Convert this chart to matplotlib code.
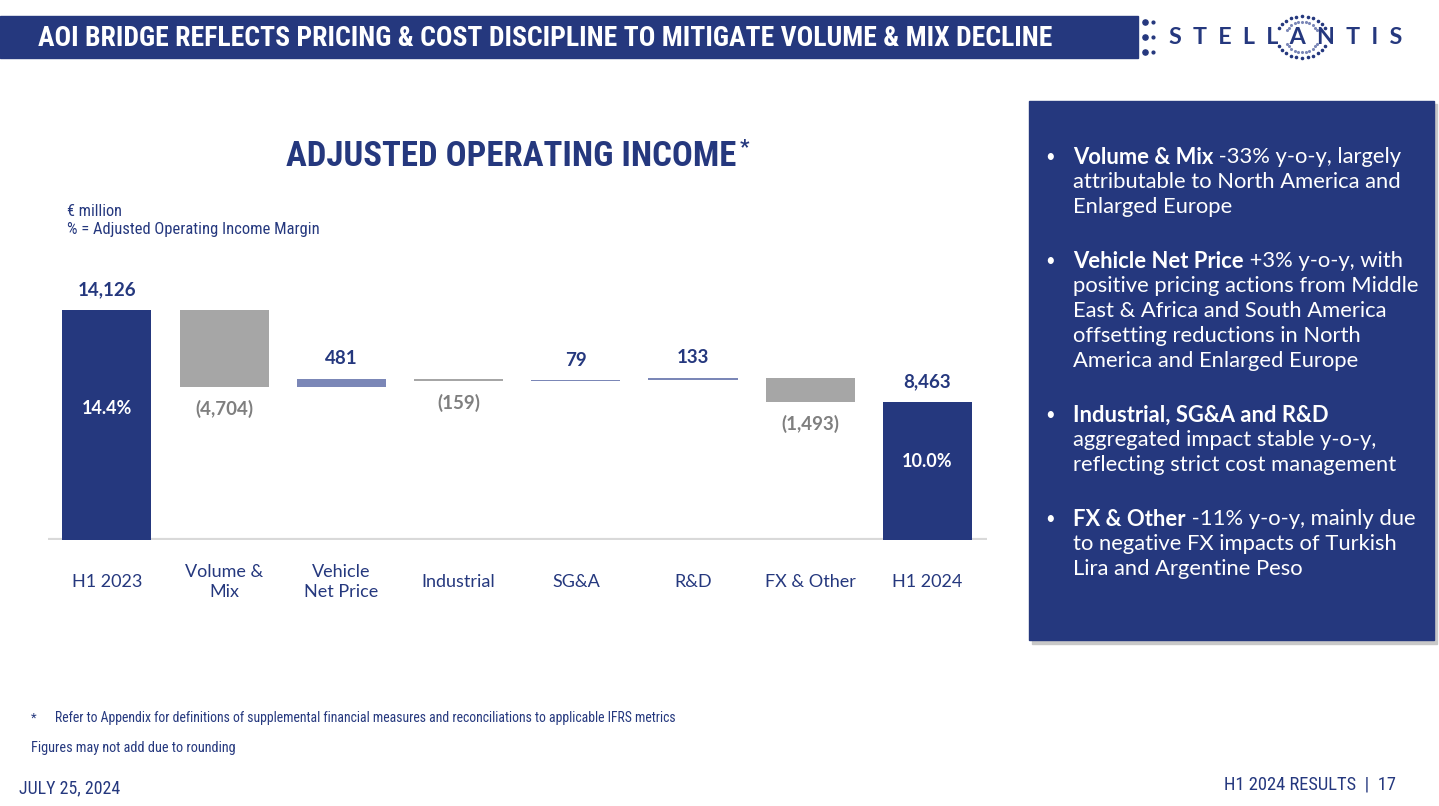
import numpy as np
import matplotlib
matplotlib.use("Agg")
import matplotlib.pyplot as plt
from matplotlib.patches import Rectangle

# ----------------
# Chart data
# ----------------

categories = ["H1 2023", "Volume &\nMix", "Vehicle\nNet Price", "Industrial",
              "SG&A", "R&D", "FX & Other", "H1 2024"]
values = [14126, -4704, 481, -159, 79, 133, -1493, 8463]
is_total = [True, False, False, False, False, False, False, True]
value_labels = ["14,126", "(4,704)", "481", "(159)", "79", "133", "(1,493)", "8,463"]
margin_labels = ["14.4%", None, None, None, None, None, None, "10.0%"]

bullets = [
    ("Volume & Mix", " -33% y-o-y, largely",
     ["attributable to North America and", "Enlarged Europe"]),
    ("Vehicle Net Price", " +3% y-o-y, with",
     ["positive pricing actions from Middle", "East & Africa and South America",
      "offsetting reductions in North", "America and Enlarged Europe"]),
    ("Industrial, SG&A and R&D", "",
     ["aggregated impact stable y-o-y,", "reflecting strict cost management"]),
    ("FX & Other", " -11% y-o-y, mainly due",
     ["to negative FX impacts of Turkish", "Lira and Argentine Peso"]),
]

# ----------------
# Styles
# ----------------

NAVY = "#25387e"
LIGHT_BLUE = "#7b87b7"
GREY_BAR = "#a6a6a6"
GREY_TXT = "#7f7f7f"
BASE = "#d9d9d9"

NARROW = ["Roboto Condensed", "Open Sans Condensed", "Roboto", "DejaVu Sans"]
BODY = ["Lato", "DejaVu Sans"]

W, H = 1439, 806
fig = plt.figure(figsize=(W / 100, H / 100), dpi=100)
fig.patch.set_facecolor("white")
renderer = fig.canvas.get_renderer()


def fx(x):
    return x / W


def fy(y):
    return 1 - y / H


def fit(t, width):
    # scale the font so the text spans the width seen on the slide
    w = t.get_window_extent(renderer).width
    t.set_fontsize(t.get_fontsize() * width / w)
    return t


# header bar
fig.patches.append(Rectangle((0, fy(58)), fx(1138), (58 - 16) / H,
                             transform=fig.transFigure, color=NAVY, zorder=0))
fit(fig.text(fx(38), fy(38), "AOI BRIDGE REFLECTS PRICING & COST DISCIPLINE TO MITIGATE VOLUME & MIX DECLINE",
             color="white", fontsize=18, fontweight="bold", family=NARROW, va="center"), 1014)

# logo
fit(fig.text(fx(1169), fy(37), "S  T  E  L  L  A  N  T  I  S", color=NAVY,
             fontsize=13, fontweight="bold", family=BODY, ha="left", va="center"), 234)
deco = fig.add_axes([0, 0, 1, 1], zorder=-1)
deco.set_xlim(0, W)
deco.set_ylim(H, 0)
deco.axis("off")
ang = np.linspace(0, 2 * np.pi, 28, endpoint=False)
ring = (np.sin(ang) < -0.35) | (np.sin(ang) > 0.35)
deco.scatter(1302 + 26 * np.cos(ang[ring]), 37 + 21 * np.sin(ang[ring]), s=2.5, color=NAVY)
deco.scatter(1302 + 17 * np.cos(ang[ring]), 37 + 15 * np.sin(ang[ring]), s=1.5, color=LIGHT_BLUE)
deco.scatter([1145] * 3, [22, 37, 52], s=14, color=NAVY)
deco.scatter([1153] * 3, [22, 37, 52], s=4, color=NAVY)

# chart title
fit(fig.text(fx(286), fy(156), "ADJUSTED OPERATING INCOME", color=NAVY, fontsize=23,
             fontweight="bold", family=NARROW, ha="left", va="center"), 452)
fig.text(fx(740), fy(148), "*", color=NAVY, fontsize=15, fontweight="bold",
         family=NARROW, ha="left", va="center")
fit(fig.text(fx(67), fy(212), "€ million", color=NAVY, fontsize=10.5, family=NARROW,
             va="center"), 55)
fit(fig.text(fx(67), fy(229), "% = Adjusted Operating Income Margin", color=NAVY,
             fontsize=10.5, family=NARROW, va="center"), 254)

# ----------------
# Waterfall
# ----------------

scale = 230 / 14126  # px per unit
ax = fig.add_axes([fx(48), (H - 540) / H, 939 / W, 280 / H])
ax.set_xlim(-0.503, 7.508)
ax.set_ylim(0, 280 / scale)
ax.axis("off")

x = np.arange(len(categories))
bottoms, heights, colors = [], [], []
running = 0
for v, tot in zip(values, is_total):
    if tot:
        bottoms.append(0)
        heights.append(v)
        colors.append(NAVY)
        running = v
    else:
        bottoms.append(running if v > 0 else running + v)
        heights.append(abs(v))
        colors.append(LIGHT_BLUE if v > 0 else GREY_BAR)
        running += v

ax.bar(x, heights, bottom=bottoms, width=0.76, color=colors, zorder=2)
ax.axhline(0, color=BASE, lw=3, zorder=1)

for i in range(len(x)):
    top = bottoms[i] + heights[i]
    if values[i] > 0:
        ax.annotate(value_labels[i], (x[i], top), xytext=(0, 20), textcoords="offset pixels",
                    ha="center", va="center", color=NAVY, fontsize=13.5, fontweight="bold",
                    family=BODY)
    else:
        ax.annotate(value_labels[i], (x[i], bottoms[i]), xytext=(0, -22),
                    textcoords="offset pixels", ha="center", va="center", color=GREY_TXT,
                    fontsize=13.5, fontweight="bold", family=BODY)
    if margin_labels[i]:
        ax.text(x[i], values[i] * 0.57, margin_labels[i], ha="center", va="center",
                color="white", fontsize=13, fontweight="bold", family=BODY)
    ax.annotate(categories[i], (x[i], 0), xytext=(0, -42), textcoords="offset pixels",
                ha="center", va="center", color=NAVY, fontsize=13, family=BODY,
                linespacing=1.25)

# ----------------
# Right panel
# ----------------

fig.patches.append(Rectangle((fx(1032), fy(644)), fx(405), (644 - 104) / H,
                             transform=fig.transFigure, color="#c8c8c8", zorder=0))
fig.patches.append(Rectangle((fx(1029), fy(640)), fx(405), (640 - 101) / H,
                             transform=fig.transFigure, color=NAVY, zorder=0))

y = 157
for bold, rest, more in bullets:
    fig.text(fx(1045), fy(y), "•", color="white", fontsize=12, family=BODY, va="center")
    t = fig.text(fx(1073), fy(y), bold, color="white", fontsize=15.8, fontweight="bold",
                 family=BODY, va="center")
    if rest:
        w = t.get_window_extent(renderer).width
        fig.text(fx(1073 + w), fy(y), rest, color="white", fontsize=15.8, family=BODY,
                 va="center")
    for line in more:
        y += 25
        fig.text(fx(1073), fy(y), line, color="white", fontsize=15.8, family=BODY, va="center")
    y += 25 + 29

# ----------------
# Footer
# ----------------

fig.text(fx(31), fy(718), "*", color=NAVY, fontsize=9.5, family=NARROW, va="center")
fit(fig.text(fx(55), fy(718), "Refer to Appendix for definitions of supplemental financial "
             "measures and reconciliations to applicable IFRS metrics",
             color=NAVY, fontsize=9.5, family=NARROW, va="center"), 628)
fit(fig.text(fx(31), fy(748), "Figures may not add due to rounding", color=NAVY,
             fontsize=9.5, family=NARROW, va="center"), 205)
fit(fig.text(fx(19), fy(788), "JULY 25, 2024", color=NAVY, fontsize=12, family=NARROW,
             va="center"), 101)
fit(fig.text(fx(1224), fy(785), "H1 2024 RESULTS  |  17", color=NAVY, fontsize=12,
             family=NARROW, ha="left", va="center"), 171)

fig.savefig("out.png", dpi=100)
